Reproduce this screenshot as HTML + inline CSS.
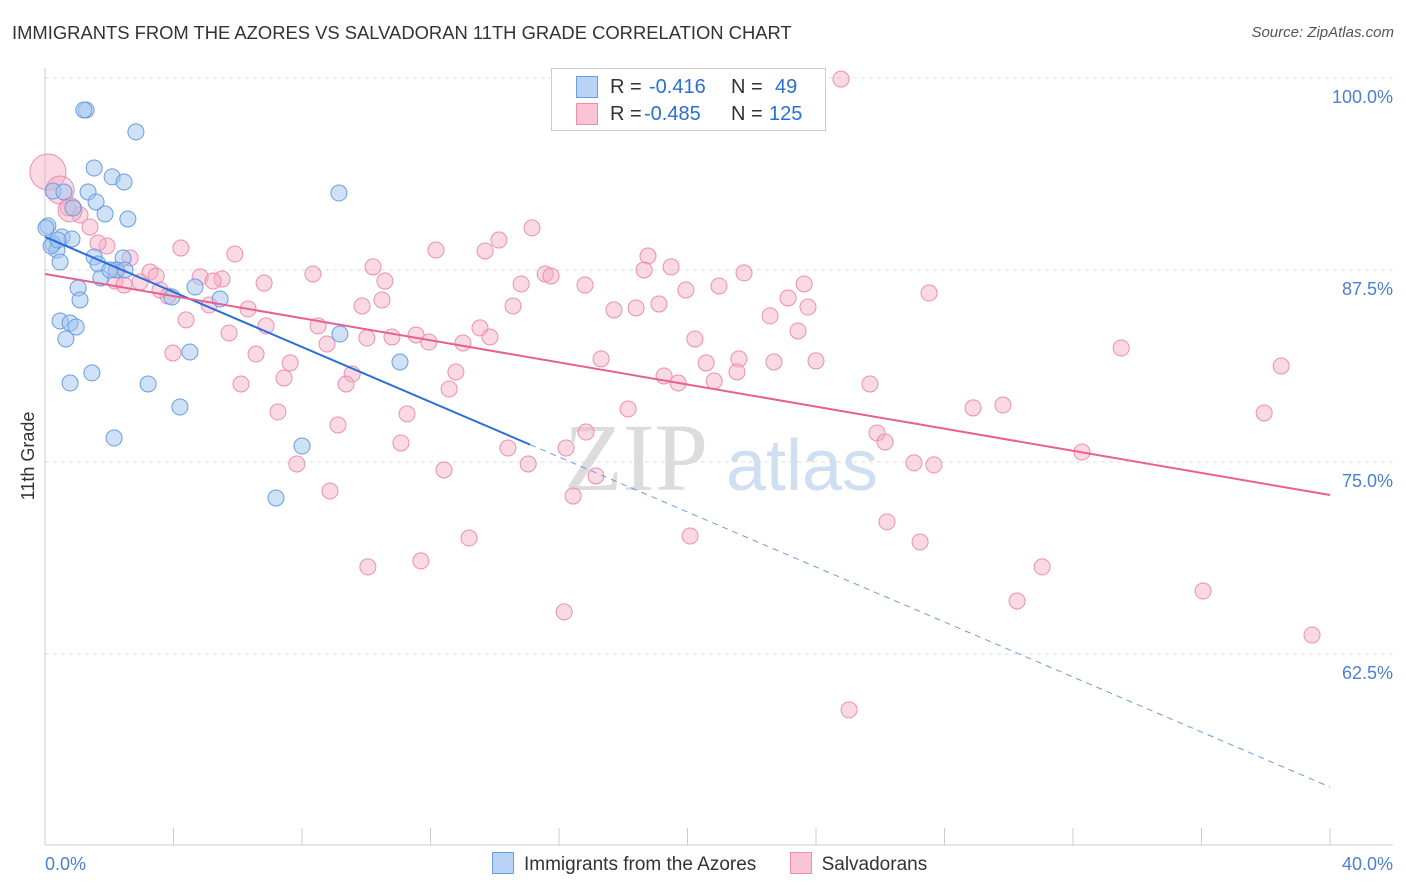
<!DOCTYPE html>
<html><head><meta charset="utf-8"><style>
body{margin:0;background:#fff;font-family:"Liberation Sans",sans-serif;}
#wrap{position:relative;width:1406px;height:892px;overflow:hidden;}
.t{position:absolute;white-space:nowrap;}
</style></head><body>
<div id="wrap">
<div class="t" style="left:12px;top:22px;font-size:18.4px;color:#333;">IMMIGRANTS FROM THE AZORES VS SALVADORAN 11TH GRADE CORRELATION CHART</div>
<div class="t" style="right:12px;top:24px;font-size:15px;color:#555;font-style:italic;">Source: ZipAtlas.com</div>
<svg id="svg" width="1406" height="892" style="position:absolute;left:0;top:0"></svg>
</div>
<script>
const xTicks=[0,40];
const yTicks=[100,87.5,75,62.5];
const blueX=[1.28,1.21,2.83,1.53,2.09,2.46,0.25,0.59,1.34,9.15,1.59,0.87,1.87,2.58,0.09,0.53,0.84,0.25,0.37,0.47,1.53,2.43,1.65,2.21,1.74,1.03,4.67,3.95,1.09,5.45,0.47,0.78,0.97,0.65,9.18,4.51,1.46,11.05,0.78,3.21,4.20,2.15,8.00,7.19,0.03,0.19,0.40,2.49,2.02];
const blueY=[97.92,97.92,96.49,94.14,93.56,93.23,92.64,92.58,92.58,92.51,91.93,91.54,91.15,90.82,90.37,89.65,89.52,89.19,88.80,88.02,88.35,88.28,87.89,87.50,86.98,86.33,86.39,85.74,85.55,85.61,84.18,84.05,83.79,83.01,83.33,82.16,80.80,81.51,80.14,80.08,78.58,76.56,76.04,72.66,90.24,89.06,89.45,87.50,87.50];
const pinkX=[24.78,15.16,14.13,12.17,4.23,5.91,13.70,18.77,18.65,19.49,10.21,8.34,15.57,15.75,21.76,23.63,16.81,14.82,4.83,5.51,5.23,6.82,10.58,19.95,20.98,27.52,23.13,10.49,23.75,14.57,17.71,18.40,19.11,9.87,5.11,6.32,4.39,6.88,22.57,8.50,13.54,5.73,23.44,10.80,11.55,10.02,13.85,20.23,11.95,13.01,33.50,8.78,6.57,3.98,17.31,20.58,21.60,22.69,24.00,7.63,12.79,38.48,21.54,9.56,19.27,19.71,7.44,20.83,9.37,6.10,12.58,25.68,18.15,29.82,28.89,7.25,11.27,37.95,9.12,16.84,11.08,25.90,26.15,14.41,16.22,32.28,7.84,12.42,27.05,27.67,15.04,17.15,8.87,16.44,26.21,13.20,20.08,27.24,10.05,11.70,31.04,36.05,30.26,16.16,39.44,25.03,2.18,2.65,3.27,3.58,3.83,1.93,1.65,2.24,2.96,3.46,1.09,1.40,0.72,2.46];
const pinkY=[99.93,90.24,89.45,88.80,88.93,88.54,88.74,88.41,87.50,87.70,87.70,87.24,87.24,87.11,87.31,86.59,86.52,86.59,87.05,86.91,86.78,86.65,86.78,86.20,86.46,86.00,85.68,85.55,85.09,85.16,84.90,85.03,85.29,85.16,85.22,84.96,84.25,83.86,84.51,83.86,83.73,83.40,83.53,83.14,83.27,83.07,83.14,83.01,82.81,82.75,82.42,82.68,82.03,82.10,81.71,81.45,81.71,81.51,81.58,81.45,80.86,81.25,80.86,80.73,80.60,80.14,80.47,80.27,80.08,80.08,79.75,80.08,78.45,78.71,78.52,78.26,78.13,78.19,77.41,76.95,76.24,76.89,76.30,75.91,75.91,75.65,74.87,74.48,74.94,74.81,74.87,74.09,73.11,72.79,71.10,70.05,70.18,69.79,68.17,68.56,68.17,66.60,65.95,65.24,63.74,58.86,86.78,88.28,87.37,86.20,85.81,89.06,89.26,87.50,86.72,87.11,91.08,90.30,91.54,86.52];
const bigPinkX=[0.09,0.47,0.78];
const bigPinkY=[93.88,92.71,91.41];
const bigPinkR=[18,14,12];
const blueTrend=[89.65,53.84];
const pinkTrend=[87.24,72.85];
const blueSolidEnd=15.1;

const NS="http://www.w3.org/2000/svg";
const svg=document.getElementById('svg');
const X=v=>45+v/40*1285;
const Y=v=>78+(100-v)*15.36;
function mk(tag,attrs){const e=document.createElementNS(NS,tag);for(const k in attrs)e.setAttribute(k,attrs[k]);svg.appendChild(e);return e;}

yTicks.forEach(v=>{
 const l=mk('line',{x1:45,x2:1393,y1:Y(v),y2:Y(v),stroke:'#ddd','stroke-dasharray':'4,4'});
 
 
 const t=mk('text',{x:1393,y:Y(v)+25,'text-anchor':'end','font-size':18,fill:'#4a7fd6','font-family':'Liberation Sans'});
 t.textContent=v.toFixed(1)+'%';
 
 
});
const ax=mk('line',{x1:45,x2:1393,y1:845,y2:845,stroke:'#ccc'});


const ay=mk('line',{x1:45,x2:45,y1:68,y2:845,stroke:'#ccc'});


for(let i=0;i<=10;i++){const tk=mk('line',{x1:X(i*4),x2:X(i*4),y1:828,y2:845,stroke:'#ccc'});
 
 }
xTicks.forEach((v,i)=>{const t=mk('text',{x:i==0?45:1393,y:870,'text-anchor':i==0?'start':'end','font-size':18,fill:'#4a7fd6','font-family':'Liberation Sans'});
 t.textContent=v.toFixed(1)+'%';
 
 });
const yt=mk('text',{x:34,y:456,'text-anchor':'middle','font-size':18,fill:'#333',transform:'rotate(-90 34 456)','font-family':'Liberation Sans'});
yt.textContent='11th Grade';



const w1=mk('text',{x:636,y:490,'text-anchor':'middle','font-size':96,fill:'#dcdcdc','font-family':'Liberation Serif'});
w1.textContent='ZIP';


const w2=mk('text',{x:802,y:490,'text-anchor':'middle','font-size':72,fill:'#d0def2','font-family':'Liberation Sans'});
w2.textContent='atlas';



pinkX.forEach((x,i)=>{const c=mk('circle',{cx:X(x),cy:Y(pinkY[i]),r:8,fill:'rgba(245,170,195,0.45)',stroke:'#eb8fb0','stroke-width':1});
 
 });
bigPinkX.forEach((x,i)=>{const c=mk('circle',{cx:X(x),cy:Y(bigPinkY[i]),r:bigPinkR[i],fill:'rgba(245,170,195,0.45)',stroke:'#eb8fb0','stroke-width':1});
 
 });
blueX.forEach((x,i)=>{const c=mk('circle',{cx:X(x),cy:Y(blueY[i]),r:8,fill:'rgba(160,195,240,0.5)',stroke:'#6a9de0','stroke-width':1});
 
 });

const by=x=>blueTrend[0]+(blueTrend[1]-blueTrend[0])*x/40;
const bl=mk('line',{x1:X(0),y1:Y(by(0)),x2:X(blueSolidEnd),y2:Y(by(blueSolidEnd)),stroke:'#2a6fd6','stroke-width':2});


const bd=mk('line',{x1:X(blueSolidEnd),y1:Y(by(blueSolidEnd)),x2:X(40),y2:Y(by(40)),stroke:'#6a9de0','stroke-width':1,'stroke-dasharray':'6,5'});


const pl=mk('line',{x1:X(0),y1:Y(pinkTrend[0]),x2:X(40),y2:Y(pinkTrend[1]),stroke:'#e8608e','stroke-width':2});


</script>
<div class="t" style="left:551px;top:68px;width:273px;height:61px;border:1px solid #ccc;background:#fff;font-size:20px;color:#333;">
 <div style="position:absolute;left:24px;top:7px;width:250px;height:24px;">
  <span style="position:absolute;left:0;top:0;width:20px;height:20px;background:#b8d3f5;border:1px solid #6a9de0;"></span>
  <span style="position:absolute;left:34px;top:0">R =</span>
  <span style="position:absolute;left:73px;top:0;color:#2a6fd6">-0.416</span>
  <span style="position:absolute;left:155px;top:0">N =</span>
  <span style="position:absolute;left:199px;top:0;color:#2a6fd6">49</span></div>
 <div style="position:absolute;left:24px;top:34px;width:250px;height:24px;">
  <span style="position:absolute;left:0;top:0;width:20px;height:20px;background:#f8c4d6;border:1px solid #eb8fb0;"></span>
  <span style="position:absolute;left:34px;top:0">R =</span>
  <span style="position:absolute;left:68px;top:0;color:#2a6fd6">-0.485</span>
  <span style="position:absolute;left:155px;top:0">N =</span>
  <span style="position:absolute;left:193px;top:0;color:#2a6fd6">125</span></div>
</div>
<div class="t" style="left:492px;top:852px;font-size:19px;color:#333;">
 <span><span style="display:inline-block;width:20px;height:20px;background:#b8d3f5;border:1px solid #6a9de0;vertical-align:-4px;margin-right:10px"></span>Immigrants from the Azores</span>
 <span style="margin-left:28px"><span style="display:inline-block;width:20px;height:20px;background:#f8c4d6;border:1px solid #eb8fb0;vertical-align:-4px;margin-right:10px"></span>Salvadorans</span>
</div>
</body></html>
